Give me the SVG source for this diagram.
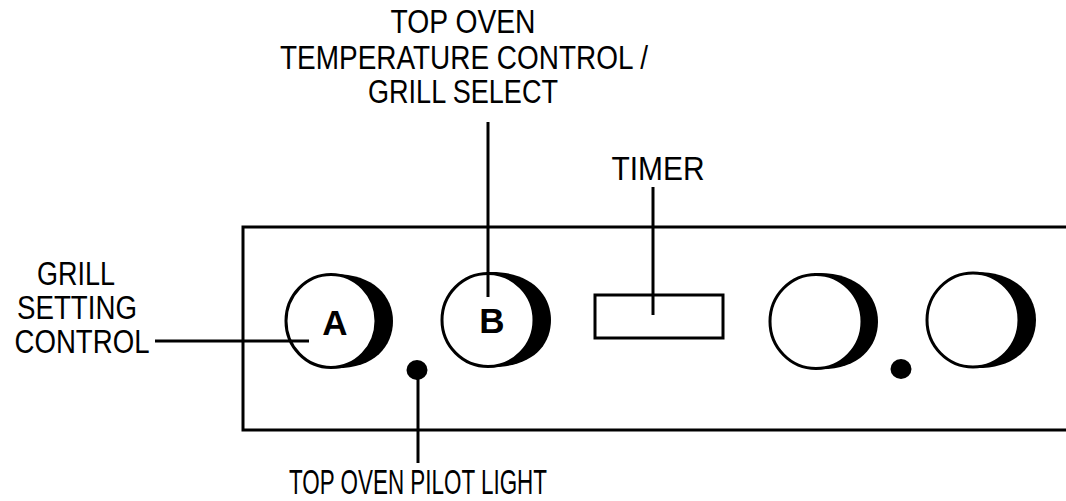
<svg xmlns="http://www.w3.org/2000/svg" width="1066" height="501" viewBox="0 0 1066 501">
<style>
.lbl{font-family:"Liberation Sans",Arial,sans-serif;font-size:33px;fill:#000;text-anchor:middle}
.big{font-size:35px}
.ltr{font-family:"Liberation Sans",Arial,sans-serif;font-size:35px;font-weight:bold;fill:#000;text-anchor:middle}
.ln{stroke:#000;stroke-width:3;fill:none}
.knob{fill:#fff;stroke:#000;stroke-width:3}
.cres{fill:#000}
</style>
<rect width="1066" height="501" fill="#fff"/>
<g id="panel">
<path class="ln" d="M1068,227 H243 V430 H1068"/>
</g>
<g id="knobA">
<path class="cres" d="M329,274 C372,272 393,295 393,321 C393,348 372,371 329,368 Z"/>
<ellipse class="knob" cx="331" cy="321" rx="45" ry="46.5"/>
<text class="ltr" x="335" y="335">A</text>
</g>
<g id="knobB">
<path class="cres" d="M486,272 C530,270 551,294 551,320 C551,347 530,369 486,367 Z"/>
<ellipse class="knob" cx="488" cy="320" rx="46" ry="46.5"/>
<text class="ltr" x="492" y="333">B</text>
</g>
<g id="pilotA"><ellipse cx="417" cy="370" rx="10.5" ry="10"/></g>
<g id="timer"><rect class="ln" x="595" y="295" width="128" height="43"/></g>
<g id="knob3">
<path class="cres" d="M814,273 C857,271 878,295 878,321.5 C878,348 857,372 814,369 Z"/>
<ellipse class="knob" cx="816" cy="321.5" rx="46" ry="47"/>
</g>
<g id="pilotB"><ellipse cx="901" cy="369" rx="10.5" ry="10"/></g>
<g id="knob4">
<path class="cres" d="M971,272 C1015,270 1036,294 1036,320 C1036,347 1015,370 971,368 Z"/>
<ellipse class="knob" cx="973" cy="320" rx="46" ry="47"/>
</g>
<g id="connectors">
<line class="ln" x1="155" y1="341" x2="309" y2="341"/>
<line class="ln" x1="488" y1="122" x2="488" y2="297"/>
<line class="ln" x1="653" y1="187" x2="653" y2="315"/>
<line class="ln" x1="418" y1="370" x2="418" y2="463"/>
</g>
<g id="labels">
<text class="lbl" x="463" y="33" textLength="145" lengthAdjust="spacingAndGlyphs">TOP OVEN</text>
<text class="lbl" x="464" y="69" textLength="368" lengthAdjust="spacingAndGlyphs">TEMPERATURE CONTROL /</text>
<text class="lbl" x="463" y="103" textLength="190" lengthAdjust="spacingAndGlyphs">GRILL SELECT</text>
<text class="lbl" x="658" y="180" textLength="93" lengthAdjust="spacingAndGlyphs">TIMER</text>
<text class="lbl" x="76" y="285" textLength="78" lengthAdjust="spacingAndGlyphs">GRILL</text>
<text class="lbl" x="77" y="319" textLength="120" lengthAdjust="spacingAndGlyphs">SETTING</text>
<text class="lbl" x="82" y="353" textLength="135" lengthAdjust="spacingAndGlyphs">CONTROL</text>
<text class="lbl big" x="418" y="494" textLength="258" lengthAdjust="spacingAndGlyphs">TOP OVEN PILOT LIGHT</text>
</g>
</svg>
